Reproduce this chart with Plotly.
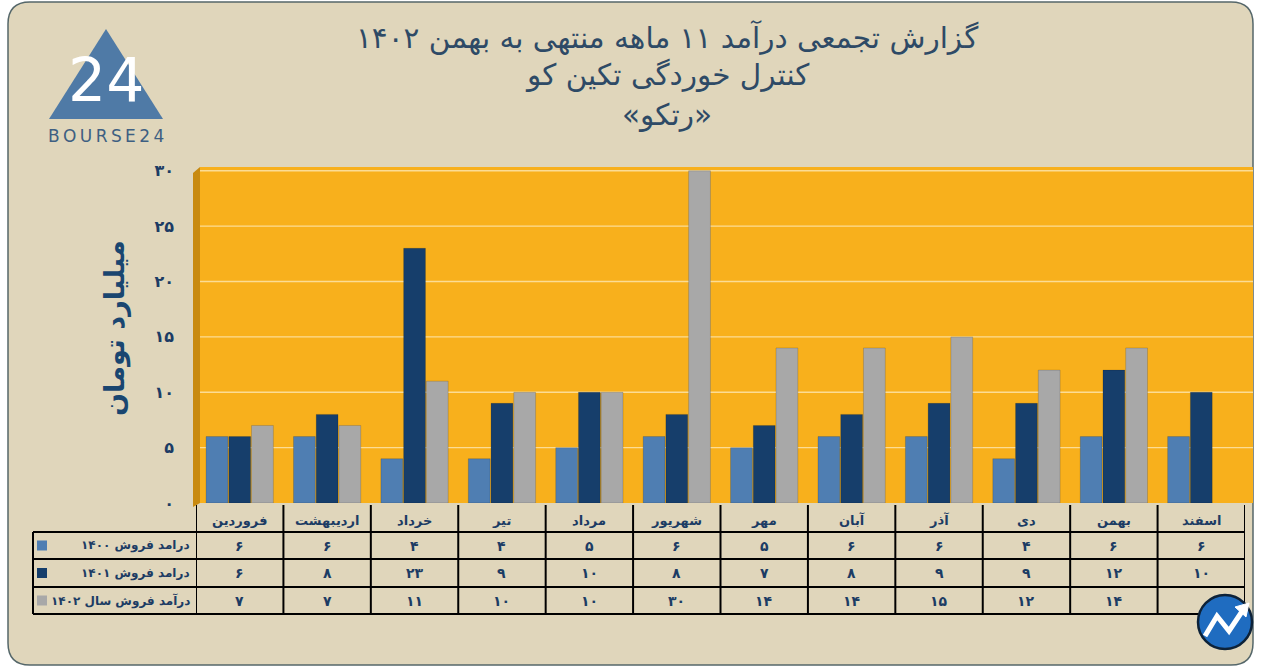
import plotly.graph_objects as go

# ---------------- data ----------------
months = ["فروردین", "اردیبهشت", "خرداد", "تیر", "مرداد", "شهریور",
          "مهر", "آبان", "آذر", "دی", "بهمن", "اسفند"]
sales_1400 = [6, 6, 4, 4, 5, 6, 5, 6, 6, 4, 6, 6]
sales_1401 = [6, 8, 23, 9, 10, 8, 7, 8, 9, 9, 12, 10]
sales_1402 = [7, 7, 11, 10, 10, 30, 14, 14, 15, 12, 14, None]
series_names = ["درامد فروش ۱۴۰۰", "درامد فروش ۱۴۰۱", "درآمد فروش سال ۱۴۰۲"]
y_ticks = [0, 5, 10, 15, 20, 25, 30]
title_lines = ["گزارش تجمعی درآمد ۱۱ ماهه منتهی به بهمن ۱۴۰۲",
               "کنترل خوردگی تکین کو",
               "«رتکو»"]
y_title = "میلیارد تومان"

# ---------------- style ----------------
FONT = "DejaVu Sans"
NAVY_TXT = "#1c3c64"
TITLE_C = "#2e4a66"
COLORS = ["#4f7eb2", "#163e6b", "#a8a8a8"]
ORANGE = "#f8b01c"
BEIGE = "#e0d6bb"

W, H = 1271, 669
L, R, T, B = 196, 26, 168, 166
PW, PH = W - L - R, H - T - B


def fa(n):
    if n is None:
        return ""
    return str(n).translate(str.maketrans("0123456789", "۰۱۲۳۴۵۶۷۸۹"))


def px(xp):
    return (xp - L) / PW


def py(yp):
    return (H - B - yp) / PH


fig = go.Figure()
for name, vals, col in zip(series_names, [sales_1400, sales_1401, sales_1402], COLORS):
    fig.add_trace(go.Bar(x=months, y=vals, name=name,
                         marker=dict(color=col, line=dict(color="rgba(0,0,0,0.25)", width=0.6))))

shapes = []
# panel
x0, x1, y0, y1, r = px(8), px(1253), py(2), py(665), 22
rx, ry = r / PW, r / PH
shapes.append(dict(type="path", xref="paper", yref="paper", layer="below",
                   path=(f"M {x0+rx} {y0} L {x1-rx} {y0} Q {x1} {y0} {x1} {y0-ry} "
                         f"L {x1} {y1+ry} Q {x1} {y1} {x1-rx} {y1} L {x0+rx} {y1} "
                         f"Q {x0} {y1} {x0} {y1+ry} L {x0} {y0-ry} Q {x0} {y0} {x0+rx} {y0} Z"),
                   fillcolor=BEIGE, line=dict(color="#55676a", width=1.5)))
# orange back wall
shapes.append(dict(type="rect", xref="paper", yref="paper", layer="below",
                   x0=px(200), x1=px(1253), y0=py(503), y1=py(167),
                   fillcolor=ORANGE, line=dict(width=0)))
# side wall
shapes.append(dict(type="path", xref="paper", yref="paper", layer="below",
                   path=f"M {px(193)} {py(173)} L {px(200)} {py(167)} L {px(200)} {py(503)} L {px(193)} {py(507)} Z",
                   fillcolor="#c88a10", line=dict(width=0)))
# gridlines
for v in y_ticks[1:]:
    shapes.append(dict(type="line", xref="paper", yref="y", layer="below",
                       x0=px(200), x1=px(1253), y0=v, y1=v,
                       line=dict(color="#fcdc94", width=1.3)))
# table lines
for yy in [532, 559, 587, 614]:
    shapes.append(dict(type="line", xref="paper", yref="paper", x0=px(33), x1=px(1245),
                       y0=py(yy), y1=py(yy), line=dict(color="black", width=2)))
shapes.append(dict(type="line", xref="paper", yref="paper", x0=px(33), x1=px(33),
                   y0=py(532), y1=py(614), line=dict(color="black", width=2)))
for i in range(len(months) + 1):
    shapes.append(dict(type="line", xref="x", yref="paper", x0=i - 0.5, x1=i - 0.5,
                       y0=py(505), y1=py(614), line=dict(color="black", width=2)))
# legend keys
ROWS = [545.5, 573, 600.5]
for k, col in enumerate(COLORS):
    yc = ROWS[k]
    shapes.append(dict(type="rect", xref="paper", yref="paper",
                       x0=px(37), x1=px(47), y0=py(yc - 5), y1=py(yc + 5),
                       fillcolor=col, line=dict(width=0)))
# logo triangle
shapes.append(dict(type="path", xref="paper", yref="paper",
                   path=f"M {px(106)} {py(29)} L {px(163)} {py(119)} L {px(49)} {py(119)} Z",
                   fillcolor="#4f7aa6", line=dict(width=0)))
# bottom-right icon
shapes.append(dict(type="circle", xref="paper", yref="paper",
                   x0=px(1198), x1=px(1252), y0=py(649), y1=py(595),
                   fillcolor="#1f6cc0", line=dict(color="#0d2238", width=2.5)))
shapes.append(dict(type="path", xref="paper", yref="paper",
                   path=(f"M {px(1205)} {py(636)} L {px(1217)} {py(616)} L {px(1229)} {py(631)} "
                         f"L {px(1243)} {py(610)}"),
                   line=dict(color="white", width=5)))
shapes.append(dict(type="path", xref="paper", yref="paper",
                   path=f"M {px(1235)} {py(607)} L {px(1249)} {py(603)} L {px(1246)} {py(617)} Z",
                   fillcolor="white", line=dict(color="white", width=1)))

ann = []


def note(text, x, y, size, color, xref="paper", bold=False, xanchor="center", **kw):
    ann.append(dict(text=text, x=x, y=y, xref=xref, yref="paper", showarrow=False,
                    xanchor=xanchor, yanchor="middle",
                    font=dict(family=kw.pop("family", FONT), size=size, color=color,
                              weight="bold" if bold else "normal"), **kw))


for t, yy in zip(title_lines, [37, 75, 115]):
    note(t, px(667), py(yy), 29.5, TITLE_C)
note(y_title, px(115), py(328), 27, "#1a4670", bold=True, textangle=-90)
for m in months:
    note(m, m, py(520), 13, NAVY_TXT, xref="x", bold=True)
for k, vals in enumerate([sales_1400, sales_1401, sales_1402]):
    for m, v in zip(months, vals):
        note(fa(v), m, py(ROWS[k]), 14, NAVY_TXT, xref="x", bold=True)
    note(series_names[k], px(192), py(ROWS[k]), 12, NAVY_TXT, bold=True, xanchor="right")
# logo text
note("24", px(106), py(80), 60, "white")
note("\u2009".join("BOURSE24"), px(106), py(136), 17, "#3e5f82")

fig.update_layout(
    width=W, height=H, autosize=False,
    margin=dict(l=L, r=R, t=T, b=B, pad=0),
    paper_bgcolor="white", plot_bgcolor="rgba(0,0,0,0)",
    barmode="group", bargap=0.22, bargroupgap=0.04,
    showlegend=False,
    shapes=shapes, annotations=ann,
    font=dict(family=FONT),
    xaxis=dict(type="category", range=[-0.5, 11.5], showticklabels=False, showgrid=False,
               zeroline=False, showline=False, ticks=""),
    yaxis=dict(range=[0, 30.25], tickvals=y_ticks, ticktext=[fa(v) for v in y_ticks],
               showgrid=False, zeroline=False, showline=False, ticks="",
               ticklabelstandoff=21,
               tickfont=dict(family=FONT, size=16, color=NAVY_TXT, weight="bold")),
)

fig.write_html("out.html", config={"displayModeBar": False},
               post_script="document.body.style.margin='0px';")
